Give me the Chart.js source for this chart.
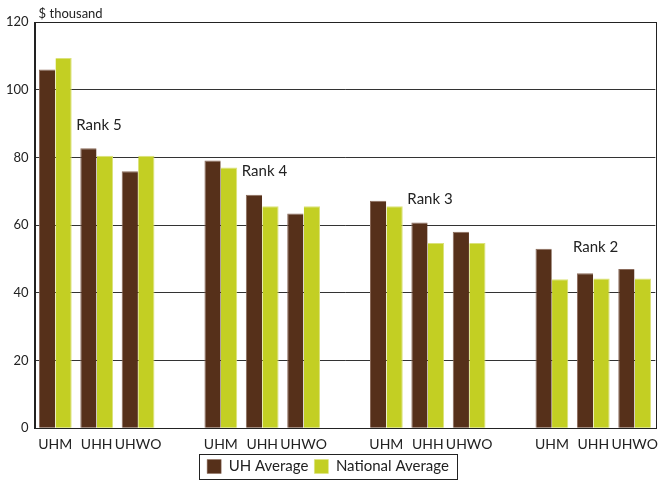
<!DOCTYPE html>
<html>
<head>
<meta charset="utf-8">
<script src="https://cdn.jsdelivr.net/npm/chart.js@4/dist/chart.umd.min.js"></script>
<style>
  html, body { margin: 0; padding: 0; background: #fff; }
  #wrap { width: 658px; height: 484px; }
</style>
</head>
<body>
<div id="wrap"><canvas id="grafico"></canvas></div>
<script>
// categorias (string vazia = espaço entre grupos)
const categorias = ["UHM", "UHH", "UHWO", "", "UHM", "UHH", "UHWO", "", "UHM", "UHH", "UHWO", "", "UHM", "UHH", "UHWO"];
const mediaUH = [106, 82.7, 75.9, null, 79.1, 69, 63.4, null, 67.2, 60.8, 58, null, 53, 45.8, 47];
const mediaNacional = [109.4, 80.5, 80.5, null, 77, 65.6, 65.6, null, 65.6, 54.7, 54.7, null, 44, 44.2, 44.2];
const ticksY = [0, 20, 40, 60, 80, 100, 120];

// rótulos "Rank": índice da categoria e valor onde ficam
const rotulosRank = ["Rank 5", "Rank 4", "Rank 3", "Rank 2"];
const rotulosIndice = [0, 4, 8, 12];
const rotulosValor = [89.5, 76, 67.8, 53.6];

const fonte = "Lato, 'Open Sans', sans-serif";

const moldura = {
  id: "moldura",
  afterDraw(chart) {
    const ctx = chart.ctx;
    const a = chart.chartArea;
    ctx.save();
    ctx.strokeStyle = "#222";
    ctx.lineWidth = 1;
    ctx.strokeRect(Math.round(a.left) + 0.5, Math.round(a.top) + 0.5, Math.round(a.right - a.left), Math.round(a.bottom - a.top));

    // rótulos Rank
    const x = chart.scales.x, y = chart.scales.y;
    ctx.fillStyle = "#222";
    ctx.font = "15px " + fonte;
    ctx.textAlign = "left";
    ctx.textBaseline = "middle";
    rotulosRank.forEach((t, i) => {
      ctx.fillText(t, x.getPixelForValue(rotulosIndice[i]) + 21, y.getPixelForValue(rotulosValor[i]));
    });

    // "$ thousand"
    ctx.font = "13px " + fonte;
    ctx.textBaseline = "bottom";
    ctx.fillText("$ thousand", a.left + 4, a.top - 2);

    // caixa da legenda, só em volta dos itens
    const caixas = chart.legend.legendHitBoxes;
    if (caixas && caixas.length) {
      const esq = Math.min(...caixas.map(c => c.left)) - 8;
      const dir = Math.max(...caixas.map(c => c.left + c.width)) + 8;
      const topo = Math.min(...caixas.map(c => c.top)) - 5;
      const base = Math.max(...caixas.map(c => c.top + c.height)) + 5;
      ctx.strokeStyle = "#222";
      ctx.strokeRect(Math.round(esq) + 0.5, Math.round(topo) + 0.5, Math.round(dir - esq), Math.round(base - topo));
    }
    ctx.restore();
  }
};

new Chart(document.getElementById("grafico").getContext("2d"), {
  type: "bar",
  data: {
    labels: categorias,
    datasets: [
      {
        label: "UH Average",
        data: mediaUH,
        backgroundColor: "#56301a",
        borderColor: "#8a6a5a",
        borderWidth: { top: 1, left: 1, right: 0, bottom: 0 },
        categoryPercentage: 0.8,
        barPercentage: 0.98
      },
      {
        label: "National Average",
        data: mediaNacional,
        backgroundColor: "#c3cf23",
        borderColor: "#dbe27a",
        borderWidth: { top: 1, left: 0, right: 1, bottom: 0 },
        categoryPercentage: 0.8,
        barPercentage: 0.98
      }
    ]
  },
  options: {
    responsive: true,
    maintainAspectRatio: false,
    animation: false,
    layout: { padding: { top: 22, right: 2, left: 0, bottom: 0 } },
    plugins: {
      tooltip: { enabled: false },
      legend: {
        position: "bottom",
        labels: {
          boxWidth: 14,
          boxHeight: 14,
          padding: 6,
          color: "#222",
          font: { family: fonte, size: 15 }
        }
      }
    },
    scales: {
      x: {
        grid: { display: false },
        border: { color: "#222" },
        ticks: { color: "#222", font: { family: fonte, size: 14 }, padding: 0, maxRotation: 0, autoSkip: false }
      },
      y: {
        min: 0,
        max: 120,
        afterBuildTicks: (s) => { s.ticks = ticksY.map(v => ({ value: v })); },
        grid: { color: "#333", drawTicks: false },
        border: { color: "#222" },
        ticks: { color: "#222", font: { family: fonte, size: 13 }, padding: 6 }
      }
    }
  },
  plugins: [moldura]
});
</script>
</body>
</html>
